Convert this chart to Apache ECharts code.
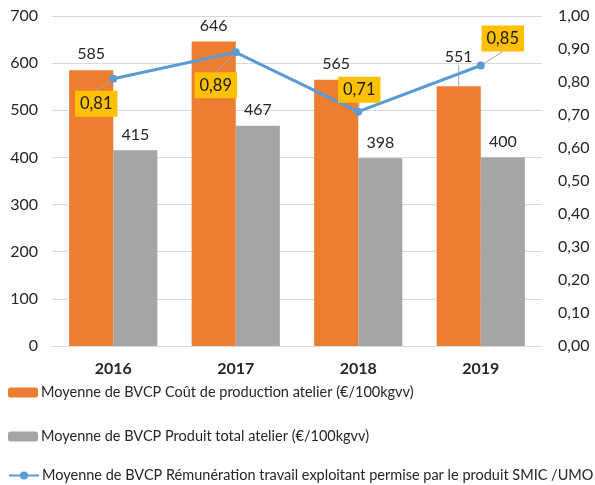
<!DOCTYPE html>
<html>
<head>
<meta charset="utf-8">
<script src="https://cdn.jsdelivr.net/npm/echarts@6/dist/echarts.min.js"></script>
<style>
html,body{margin:0;padding:0;background:#fff;}
#chart{width:595px;height:485px;}
</style>
</head>
<body>
<div id="chart"></div>
<script>
const categories = ['2016', '2017', '2018', '2019'];
const coutProduction = [585, 646, 565, 551];
const produitTotal = [415, 467, 398, 400];
const remuneration = [0.81, 0.89, 0.71, 0.85];
const seriesNames = [
  'Moyenne de BVCP Coût de production atelier (€/100kgvv)',
  'Moyenne de BVCP Produit total atelier (€/100kgvv)',
  'Moyenne de BVCP Rémunération travail exploitant permise par le produit SMIC /UMO'
];

const FONT = 'Lato';
const lineLabelShift = [[-17, 25], [-20, 33], [1, -22], [22, -27]];
const costLabelShift = [[0, 0], [0, 0], [0, 0], [0, -13]];
const fmt = v => v.toFixed(2).replace('.', ',');

const chart = echarts.init(document.getElementById('chart'));
chart.setOption({
  backgroundColor: '#fff',
  animation: false,
  textStyle: { fontFamily: FONT },
  grid: { left: 52, right: 53, top: 16, bottom: 139 },
  legend: [0, 1, 2].map(i => ({
    data: [seriesNames[i]],
    left: 8,
    top: [385, 429, 468][i],
    itemWidth: 30,
    itemHeight: 10,
    padding: 0,
    textStyle: { fontFamily: FONT, fontSize: 14.5, color: '#262626', padding: [0, 0, 0, -2] }
  })),
  xAxis: {
    type: 'category',
    data: categories,
    axisTick: { show: false },
    axisLine: { lineStyle: { color: '#d9d9d9', width: 1 } },
    axisLabel: { margin: 15, fontFamily: FONT, fontSize: 16, fontWeight: 'bold', color: '#262626' }
  },
  yAxis: [
    {
      type: 'value', min: 0, max: 700, interval: 100,
      axisLine: { show: false }, axisTick: { show: false },
      splitLine: { lineStyle: { color: '#d9d9d9', width: 1 } },
      axisLabel: { margin: 14, fontFamily: FONT, fontSize: 16, color: '#262626' }
    },
    {
      type: 'value', min: 0, max: 1, interval: 0.1,
      axisLine: { show: false }, axisTick: { show: false },
      splitLine: { show: false },
      axisLabel: { margin: 16, fontFamily: FONT, fontSize: 16, color: '#262626', formatter: v => fmt(v) }
    }
  ],
  series: [
    {
      name: seriesNames[0], type: 'bar', yAxisIndex: 0,
      data: coutProduction.map((v, i) => ({ value: v, labelLine: { show: costLabelShift[i][1] !== 0 } })),
      barGap: '0%', barCategoryGap: '28%',
      itemStyle: { color: '#ed7d31' },
      label: { show: true, position: 'top', distance: 8, fontFamily: FONT, fontSize: 16, color: '#262626' },
      labelLayout: p => ({ dx: costLabelShift[p.dataIndex][0], dy: costLabelShift[p.dataIndex][1] }),
      labelLine: { show: true, lineStyle: { color: '#a6a6a6', width: 1 } }
    },
    {
      name: seriesNames[1], type: 'bar', yAxisIndex: 0,
      data: produitTotal,
      barGap: '0%', barCategoryGap: '28%',
      itemStyle: { color: '#a5a5a5' },
      label: { show: true, position: 'top', distance: 8, fontFamily: FONT, fontSize: 16, color: '#262626' }
    },
    {
      name: seriesNames[2], type: 'line', yAxisIndex: 1,
      data: remuneration,
      z: 5,
      symbol: 'circle', symbolSize: 8,
      lineStyle: { color: '#5b9bd5', width: 3 },
      itemStyle: { color: '#5b9bd5' },
      label: {
        show: true, position: 'inside', fontFamily: FONT, fontSize: 16.5, color: '#1a1a1a',
        backgroundColor: '#ffc000', padding: [5, 5, 4, 5],
        formatter: p => fmt(p.value)
      },
      labelLayout: p => ({ dx: lineLabelShift[p.dataIndex][0], dy: lineLabelShift[p.dataIndex][1] }),
      labelLine: { show: true, lineStyle: { color: '#a6a6a6', width: 1 } }
    }
  ]
});
</script>
</body>
</html>
